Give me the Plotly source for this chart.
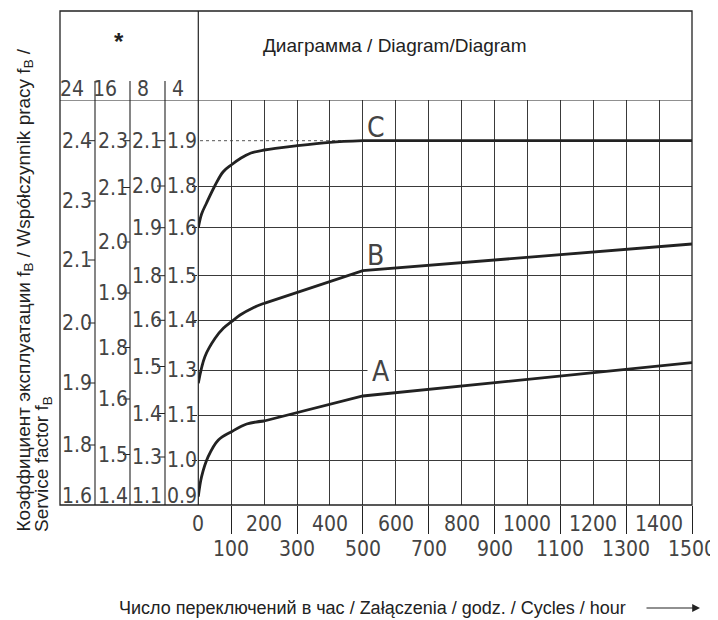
import plotly.graph_objects as go

# ---------------- data ----------------
# x: switching cycles per hour; y: position on the nomogram's vertical scale (chart level units)
X_ODD = [100, 300, 500, 700, 900, 1100, 1300, 1500]
X_EVEN = [0, 200, 400, 600, 800, 1000, 1200, 1400]

C_X = [0, 10, 25, 50, 75, 100, 130, 160, 200, 300, 400, 500, 1500]
C_Y = [277.3, 291, 302, 319, 333, 340, 347, 352, 355, 359.3, 362.7, 364.3, 364.3]
C_KNEE = 11

B_X = [0, 20, 51, 76, 101, 127, 167, 200, 300, 400, 500, 1500]
B_Y = [121.7, 148.3, 166.7, 176.7, 183.3, 190, 197.3, 201.7, 212.7, 223.3, 234.3, 261]
B_KNEE = 7

A_X = [0, 10, 30, 61, 101, 147, 200, 300, 400, 500, 1500]
A_Y = [8.3, 28.3, 48.3, 65, 73.3, 81, 84, 92.3, 101, 109, 142.3]
A_KNEE = 6

# fB scales for operating hours per day (24, 16, 8, 4)
SCALE_HOURS = ["24", "16", "8", "4"]
S24_LAB = ["2.4", "2.3", "2.1", "2.0", "1.9", "1.8"]
S24_LEV = [364.3, 304, 245, 182, 122, 60]
S16_LAB = ["2.3", "2.1", "2.0", "1.9", "1.8", "1.6", "1.5"]
S16_LEV = [364.3, 317.5, 263, 212, 157.5, 106, 50.5]
S8_LAB = ["2.1", "2.0", "1.9", "1.8", "1.6", "1.5", "1.4", "1.3"]
S8_LEV = [364.3, 319, 277.3, 229.3, 184.7, 138.5, 91.5, 48]
S4_LAB = ["1.9", "1.8", "1.6", "1.5", "1.4", "1.3", "1.1", "1.0"]
S4_LEV = [364.3, 319, 277.3, 229.3, 184.7, 135, 90, 45]
BOTTOM_LAB = ["1.6", "1.4", "1.1", "0.9"]
BOTTOM_LEV = 9

# ---------------- layout constants ----------------
BODY = 8                  # default page margin around the plot div
W, H = 718 - BODY, 620 - BODY
ML, MR, MT, MB = 60 - BODY, 26, 11 - BODY, 115
PL = ML + BODY            # page pixel of plot-area left edge (60)
PB = H - MB + BODY        # page pixel of plot-area bottom (505)
PW = W - ML - MR          # 632
PH = H - MT - MB          # 494
X0_PX = 198.3             # page pixel of x = 0
HEADER_LEV = 405          # level of header divider line

def px_x(px):
    return (px - PL) / PW

def px_y(py):
    return (PB - py) / PH

NARROW = "Liberation Sans Narrow, DejaVu Sans Condensed, Arial Narrow, sans-serif"
SANS = "Liberation Sans, Arial, Helvetica, sans-serif"
INK = "#222"
LBL = "#444"
GRID = "#3a3a3a"
NUM_SIZE = 21

fig = go.Figure()

def add_curve(xs, ys, knee):
    fig.add_trace(go.Scatter(x=xs[:knee + 1], y=ys[:knee + 1], mode="lines",
                             line=dict(color=INK, width=2.8, shape="spline", smoothing=1.0),
                             hoverinfo="skip", showlegend=False, cliponaxis=False))
    fig.add_trace(go.Scatter(x=xs[knee:], y=ys[knee:], mode="lines",
                             line=dict(color=INK, width=2.8),
                             hoverinfo="skip", showlegend=False, cliponaxis=False))

shapes = []
annotations = []

# dotted 1.9 line (under curve C)
shapes.append(dict(type="line", xref="x", yref="y", x0=-13, x1=1500, y0=364.3, y1=364.3,
                   line=dict(color="#555", width=1, dash="dot"), layer="below"))

add_curve(C_X, C_Y, C_KNEE)
add_curve(B_X, B_Y, B_KNEE)
add_curve(A_X, A_Y, A_KNEE)

# outer frame
shapes.append(dict(type="rect", xref="paper", yref="paper", x0=0, x1=1, y0=0, y1=1,
                   line=dict(color=INK, width=1.3)))
# header divider (full width)
shapes.append(dict(type="line", xref="paper", yref="y", x0=0, x1=1, y0=HEADER_LEV, y1=HEADER_LEV,
                   line=dict(color=INK, width=1.2)))
# vertical divider between scales and diagram (full height)
shapes.append(dict(type="line", xref="paper", yref="paper", x0=px_x(X0_PX), x1=px_x(X0_PX), y0=0, y1=1,
                   line=dict(color=INK, width=1.2)))
# column separators of the scales
for cx in [95, 130, 165]:
    shapes.append(dict(type="line", xref="paper", yref="paper", x0=px_x(cx), x1=px_x(cx),
                       y0=0, y1=px_y(81), line=dict(color=INK, width=1.1)))

def num(x, y, text, xref="paper", yref="y", xanchor="left", size=NUM_SIZE):
    annotations.append(dict(xref=xref, yref=yref, x=x, y=y, text=text,
                            showarrow=False, xanchor=xanchor, yanchor="middle",
                            borderpad=0,
                            font=dict(family=NARROW, size=size, color=LBL)))

# scale ticks and labels
scale_defs = [
    (S24_LAB, S24_LEV, 60.5, 88, 95),
    (S16_LAB, S16_LEV, 96.5, 123, 130),
    (S8_LAB, S8_LEV, 130.5, 157, 165),
    (S4_LAB, S4_LEV, 165.5, None, None),
]
for labs, levs, lx, t0, t1 in scale_defs:
    for lab, lev in zip(labs, levs):
        num(px_x(lx), lev, lab)
        if t0 is not None:
            shapes.append(dict(type="line", xref="paper", yref="y", x0=px_x(t0), x1=px_x(t1),
                               y0=lev, y1=lev, line=dict(color=INK, width=1)))
for lab, lx in zip(BOTTOM_LAB, [60.5, 96.5, 130.5, 165.5]):
    num(px_x(lx), BOTTOM_LEV, lab)

# scale column headers (hours)
for lab, cx in zip(SCALE_HOURS, [72, 105, 143, 178]):
    num(px_x(cx), px_y(89.5), lab, yref="paper", xanchor="center")

# header texts
annotations.append(dict(xref="paper", yref="paper", x=px_x(119), y=px_y(41), text="<b>*</b>",
                        showarrow=False, xanchor="center", yanchor="middle",
                        font=dict(family=SANS, size=24, color=INK)))
annotations.append(dict(xref="paper", yref="paper", x=px_x(395), y=px_y(46),
                        text="Диаграмма / Diagram/Diagram", showarrow=False,
                        xanchor="center", yanchor="middle",
                        font=dict(family=SANS, size=19, color=INK)))

# curve labels
annotations.append(dict(xref="x", yref="y", x=540, y=377, text="C", showarrow=False,
                        xanchor="center", yanchor="middle",
                        font=dict(family=NARROW, size=28, color=LBL)))
annotations.append(dict(xref="x", yref="y", x=538, y=250, text="B", showarrow=False,
                        xanchor="center", yanchor="middle",
                        font=dict(family=NARROW, size=28, color=LBL)))
annotations.append(dict(xref="x", yref="y", x=556, y=134, text="A", showarrow=False,
                        xanchor="center", yanchor="middle",
                        bgcolor="white", width=26, height=30, borderpad=0,
                        font=dict(family=NARROW, size=28, color=LBL)))

# x tick labels: even values upper row, odd values lower row
for v in X_EVEN:
    num(v, px_y(524), str(v), xref="x", yref="paper", xanchor="center")
for v in X_ODD:
    num(v, px_y(549), str(v), xref="x", yref="paper", xanchor="center")

# axis titles
annotations.append(dict(xref="paper", yref="paper", x=px_x(372.5), y=px_y(608),
                        text="Число переключений в час / Załączenia / godz. / Cycles / hour",
                        showarrow=False, xanchor="center", yanchor="middle",
                        font=dict(family=SANS, size=18, color=INK)))
annotations.append(dict(xref="paper", yref="paper", x=px_x(700), y=px_y(608), text="",
                        showarrow=True, ax=-55, ay=0, arrowhead=2, arrowsize=1.3,
                        arrowwidth=1.2, arrowcolor=INK))
Y_TITLE_LINES = ["Коэффициент эксплуатации f<sub>B</sub> / Współczynnik pracy f<sub>B</sub> /",
                 "Service factor f<sub>B</sub>"]
for line, cx in zip(Y_TITLE_LINES, [24, 43]):
    annotations.append(dict(xref="paper", yref="paper", x=px_x(cx), y=px_y(533),
                            text=line, showarrow=False, textangle=-90,
                            xanchor="center", yanchor="bottom", borderpad=0,
                            font=dict(family=SANS, size=19, color=INK)))

fig.update_layout(
    width=W, height=H,
    margin=dict(l=ML, r=MR, t=MT, b=MB),
    paper_bgcolor="white", plot_bgcolor="white",
    showlegend=False,
    xaxis=dict(domain=[px_x(X0_PX), 1], range=[0, 1500], tickvals=X_ODD,
               showticklabels=False, ticks="outside", ticklen=28, tickcolor=INK, tickwidth=1,
               showgrid=True, gridcolor=GRID, gridwidth=1, zeroline=False, showline=False,
               minor=dict(tickvals=X_EVEN, showgrid=True, gridcolor=GRID, gridwidth=1, ticks=""),
               fixedrange=True),
    yaxis=dict(domain=[0, HEADER_LEV / PH], range=[0, HEADER_LEV], tickvals=S4_LEV[1:],
               showticklabels=False, ticks="outside", ticklen=5, tickcolor=INK, tickwidth=1,
               showgrid=True, gridcolor=GRID, gridwidth=1, zeroline=False, showline=False,
               fixedrange=True),
    shapes=shapes,
    annotations=annotations,
)

fig.write_html("out.html")
